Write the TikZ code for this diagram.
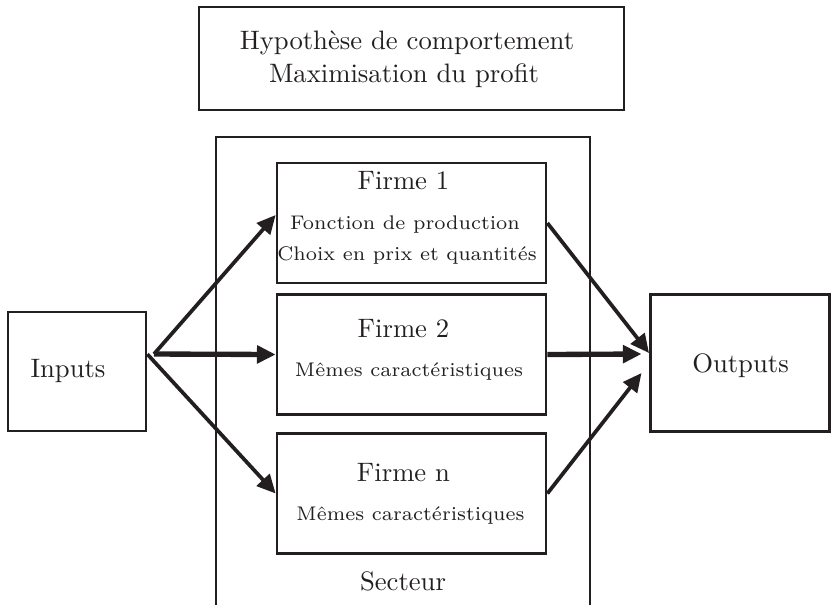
\documentclass[tikz,border=0pt]{standalone}
\usepackage{tikz}
\usetikzlibrary{arrows.meta}
\definecolor{ink}{HTML}{231F20}

\tikzset{
  frame/.style={draw=ink, line width=1pt},
  box/.style={frame, inner sep=0pt},
  flow/.style={draw=ink, line width=1.4pt, -{Triangle[length=7pt,width=6.5pt]}},
  bigflow/.style={flow, line width=2pt},
  sub/.style={font=\fontsize{7.4}{9}\selectfont, anchor=base},
}

\begin{document}
\begin{tikzpicture}[x=0.375pt, y=-0.375pt, every node/.append style={text=ink}]
\useasboundingbox (0,0) rectangle (832,605);

% hypothese
\node[box, minimum width=159.4pt, minimum height=38.6pt] (hyp) at (411.5,58.5) {};
\node[anchor=base] (hyp-a) at (407,49) {Hypothèse de comportement};
\node[anchor=base] (hyp-b) at (404,82) {Maximisation du profit};

% secteur
\draw[frame] (216,605) |- (590,137) -- (590,605);
\node[anchor=base] (sect) at (403,590) {Secteur};

% firmes
\foreach \n/\t/\yc/\yt in {f1/Firme 1/223/189, f2/Firme 2/354.5/337, fn/Firme n/493.5/481} {
  \node[box, minimum width=100.9pt, minimum height=45pt] (\n) at (411.5,\yc) {};
  \node[anchor=base] (\n-t) at (403.5,\yt) {\t};
}
\node[sub] (f1-a) at (405,229) {Fonction de production};
\node[sub] (f1-b) at (407,260) {Choix en prix et quantités};
\node[sub] (f2-a) at (409,376) {Mêmes caractéristiques};
\node[sub] (fn-a) at (410.5,520) {Mêmes caractéristiques};

% inputs / outputs
\node[box, minimum width=51.75pt, minimum height=44.6pt] (inp) at (77,371.5) {};
\node[anchor=base] (inp-t) at (68,377) {Inputs};
\node[box, minimum width=67.1pt, minimum height=51.4pt] (out) at (740,362.75) {};
\node[anchor=base] (out-t) at (740.5,372) {Outputs};

% fleches
\coordinate (src) at (154,354);
\coordinate (o1) at (649,353);
\coordinate (o2) at (641.5,354);
\coordinate (o3) at (641.5,373);
\draw[flow] (src) -- ([yshift=3pt]f1.west);
\draw[bigflow] (src) -- (f2.west);
\draw[flow] ([yshift=6.5pt]inp.east) -- (fn.west);
\draw[flow] (f1.east) -- (o1);
\draw[bigflow] (f2.east) -- (o2);
\draw[flow] (fn.east) -- (o3);
\end{tikzpicture}
\end{document}
